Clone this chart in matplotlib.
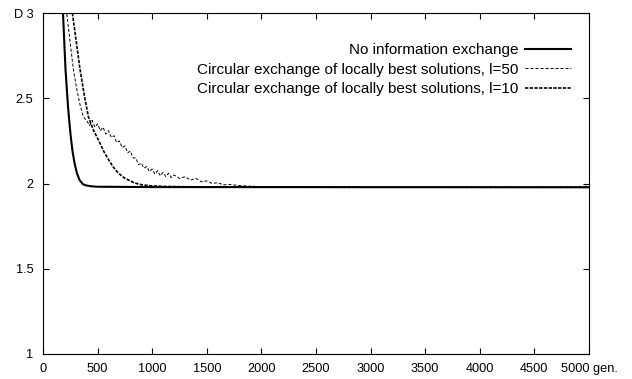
import matplotlib
matplotlib.use("Agg")
import matplotlib.pyplot as plt

plt.rcParams['font.family'] = ['Liberation Sans', 'DejaVu Sans']
plt.rcParams['lines.scale_dashes'] = False

# --- data ---
gen_none = [160, 183, 206, 229, 250, 270, 290, 311, 335, 367, 400, 450, 500, 1000, 5000]
d_none = [3.3, 3.0, 2.67, 2.45, 2.3, 2.19, 2.115, 2.06, 2.02, 1.995, 1.988, 1.983, 1.981, 1.979, 1.978]

gen_l50 = [180, 217, 250, 278, 310, 340, 370, 400, 425, 450, 475, 500, 525, 550, 575,
           600, 625, 650, 675, 700, 725, 750, 775, 800, 825, 850, 875, 900, 925, 950,
           975, 1000, 1025, 1050, 1075, 1100, 1125, 1150, 1175, 1200, 1250, 1300, 1350,
           1400, 1450, 1500, 1550, 1600, 1650, 1700, 1800, 1900, 2000, 2200, 2500, 3000,
           4000, 5000]
d_l50 = [3.25, 3.0, 2.82, 2.67, 2.55, 2.46, 2.39, 2.37, 2.34, 2.37, 2.33, 2.35, 2.31, 2.33, 2.29,
         2.31, 2.27, 2.28, 2.24, 2.25, 2.21, 2.22, 2.18, 2.19, 2.15, 2.15, 2.11, 2.12, 2.09, 2.1,
         2.07, 2.085, 2.055, 2.075, 2.045, 2.065, 2.04, 2.06, 2.035, 2.05, 2.03, 2.04, 2.02,
         2.03, 2.01, 2.015, 2.0, 2.005, 1.992, 1.995, 1.988, 1.984, 1.982, 1.98, 1.979, 1.978,
         1.978, 1.978]

gen_l10 = [240, 269, 305, 339, 380, 416, 460, 508, 555, 600, 645, 691, 740, 783, 840, 905,
           1000, 1100, 1300, 1600, 2000, 3000, 5000]
d_l10 = [3.15, 3.0, 2.83, 2.67, 2.51, 2.39, 2.315, 2.255, 2.19, 2.14, 2.095, 2.06, 2.035, 2.02,
         2.003, 1.992, 1.986, 1.983, 1.981, 1.98, 1.979, 1.978, 1.978]

labels = ["No information exchange",
          "Circular exchange of locally best solutions, l=50",
          "Circular exchange of locally best solutions, l=10"]

xticks = [0, 500, 1000, 1500, 2000, 2500, 3000, 3500, 4000, 4500, 5000]
xtick_labels = ["0", "500", "1000", "1500", "2000", "2500", "3000", "3500", "4000",
                "4500", "5000 gen."]
yticks = [1, 1.5, 2, 2.5, 3]
ytick_labels = ["1", "1.5", "2", "2.5", "D 3"]

fig = plt.figure(figsize=(6.32, 3.79), dpi=100)
ax = fig.add_axes([43 / 632, 1 - 354 / 379, 546 / 632, 341 / 379])

ax.plot(gen_none, d_none, color='black', lw=1.5, label=labels[0])
ax.plot(gen_l50, d_l50, color='black', lw=0.7, dashes=(2.2, 1.4), label=labels[1])
ax.plot(gen_l10, d_l10, color='black', lw=1.2, dashes=(2.4, 1.0), label=labels[2])

ax.set_xlim(0, 5000)
ax.set_ylim(1, 3)
ax.set_xticks(xticks)
ax.set_xticklabels(xtick_labels)
ax.set_yticks(yticks)
ax.set_yticklabels(ytick_labels)
ax.tick_params(direction='in', length=4, width=0.8, top=True, right=True,
               labelsize=9.2, colors='black')
ax.tick_params(axis='y', pad=7)
ax.tick_params(axis='x', pad=6.5)
for s in ax.spines.values():
    s.set_linewidth(0.8)

ax.legend(loc='upper right', bbox_to_anchor=(0.967, 0.912), frameon=False,
          markerfirst=False, fontsize=11, handlelength=3.0, handletextpad=0.45,
          labelspacing=0.36, borderpad=0, borderaxespad=0)

fig.savefig("out.png", dpi=100)
